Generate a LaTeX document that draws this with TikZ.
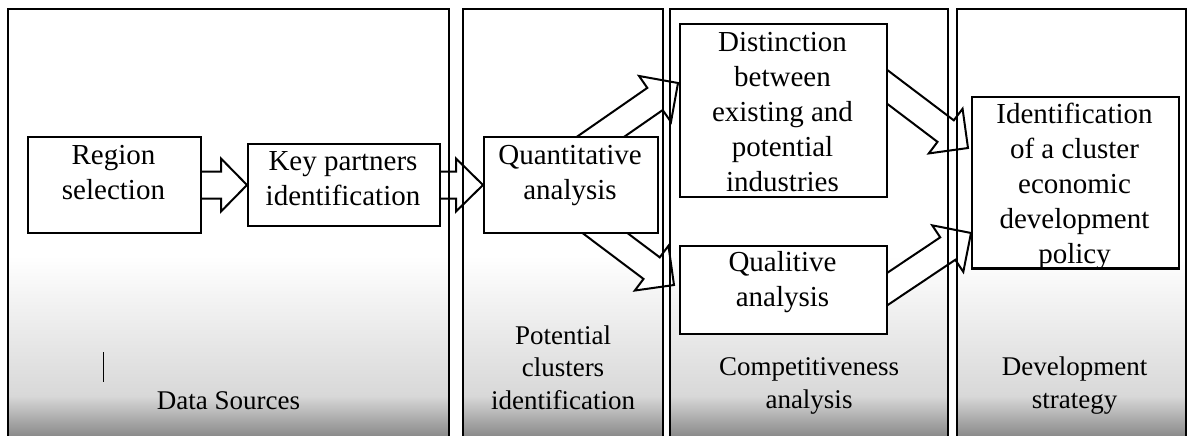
\documentclass[tikz,border=0pt]{standalone}
\usepackage{fontspec}
\setmainfont{Liberation Serif}
\usetikzlibrary{calc}
\definecolor{gA}{HTML}{D8D8D8}
\definecolor{gB}{HTML}{8A8A8A}
\pgfdeclarelayer{bg}
\pgfdeclarelayer{arr}
\pgfdeclarelayer{frm}
\pgfsetlayers{bg,arr,frm,main}
% #1 start, #2 tip, #3 shaft half width, #4 head half width, #5 head length
\newcommand\fatarrow[5]{%
 \draw[fatarr] let \p1=(#1), \p2=(#2), \n1={atan2(\y2-\y1,\x2-\x1)}, \n2={veclen(\x2-\x1,\y2-\y1)-#5} in
 ($(\p1)+(\n1+90:#3pt)$) -- ($(\p1)+(\n1:\n2)+(\n1+90:#3pt)$) -- ($(\p1)+(\n1:\n2)+(\n1+90:#4pt)$) -- (\p2) -- ($(\p1)+(\n1:\n2)+(\n1-90:#4pt)$) -- ($(\p1)+(\n1:\n2)+(\n1-90:#3pt)$) -- ($(\p1)+(\n1-90:#3pt)$) -- cycle;}
\tikzset{
 frame/.style={line width=2pt, line join=miter},
 box/.style={draw, line width=2pt, fill=white, inner sep=0pt, anchor=north west},
 btxt/.style={font=\fontsize{29}{35}\selectfont, align=center, inner sep=0pt, anchor=base},
 ltxt/.style={font=\fontsize{27}{32.5}\selectfont, align=center, inner sep=0pt, anchor=base},
 fatarr/.style={draw, line width=2pt, fill=white, line join=miter}
}
\begin{document}
\begin{tikzpicture}[x=1pt,y=-1pt]
\useasboundingbox (0,0) rectangle (1187,436);
\begin{pgfonlayer}{bg}
 \fill[white] (0,0) rectangle (1187,436);
 \foreach \a/\b in {8/449,463/663,670/948,957/1185.5}{
  \shade[top color=white,bottom color=gA] (\a,256) rectangle (\b,396.5);
  \shade[top color=gA,bottom color=gB] (\a,396) rectangle (\b,436);
 }
\end{pgfonlayer}
\begin{pgfonlayer}{frm}
 \foreach \a/\b in {8/449,463/663,670/948,957/1185.5}{
  \draw[frame] (\a,437) -- (\a,9) -- (\b,9) -- (\b,437);
 }
\end{pgfonlayer}
% boxes
\node[box, minimum width=173pt, minimum height=96pt] (rs) at (27,136) {};
\node[box, minimum width=192pt, minimum height=82pt] (kp) at (247,143) {};
\node[box, minimum width=174pt, minimum height=96pt] (qa) at (483,136) {};
\node[box, minimum width=207pt, minimum height=173pt] (di) at (679,23) {};
\node[box, minimum width=207pt, minimum height=88pt] (ql) at (679,245) {};
\node[box, minimum width=207pt, minimum height=171pt] (id) at (971,96) {};
% arrow end points
\coordinate (s3) at ($(qa.center)+(-1,-27)$);
\coordinate (t3) at ($(di.north west)+(-1,60)$);
\coordinate (s4) at ($(qa.center)+(2,24)$);
\coordinate (t4) at ($(ql.north west)+(-5,40)$);
\coordinate (s5) at ($(di.east)+(-33,-48)$);
\coordinate (t5) at ($(id.west)+(-3,-34.5)$);
\coordinate (s6) at ($(ql.east)+(-35,22)$);
\coordinate (t6) at ($(id.north west)+(0,137)$);
\begin{pgfonlayer}{arr}
 \fatarrow{rs.center}{kp.west}{13.5}{26.5}{26}
 \fatarrow{kp.center}{qa.west}{13.5}{26.5}{27}
 \fatarrow{s3}{t3}{13.5}{28}{28}
 \fatarrow{s4}{t4}{13.5}{28}{28}
 \fatarrow{s5}{t5}{13.5}{28}{28}
 \fatarrow{s6}{t6}{13.5}{28}{28}
\end{pgfonlayer}
% box texts (anchor = baseline of last line)
\node[btxt] (rst) at (113.5,199) {Region\\selection};
\node[btxt] (kpt) at (343,205) {Key partners\\identification};
\node[btxt] (qat) at (570,199) {Quantitative\\analysis};
\node[btxt] (dit) at (782.5,191) {Distinction\\between\\existing and\\potential\\industries};
\node[btxt] (qlt) at (782.5,306) {Qualitive\\analysis};
\begin{scope}
 \clip (id.north west) rectangle (id.south east);
 \node[btxt] (idt) at (1074.5,263) {Identification\\of a cluster\\economic\\development\\policy};
\end{scope}
\draw[line width=2pt] (id.south west) -- (id.south east);
% panel labels
\node[ltxt] (ds) at (228.5,409) {Data Sources};
\node[ltxt] (pc) at (563,409) {Potential\\clusters\\identification};
\node[ltxt] (ca) at (809,408) {Competitiveness\\analysis};
\node[ltxt] (dv) at (1074.5,408) {Development\\strategy};
\draw[line width=1pt] (103,352) -- (103,382);
\end{tikzpicture}
\end{document}
